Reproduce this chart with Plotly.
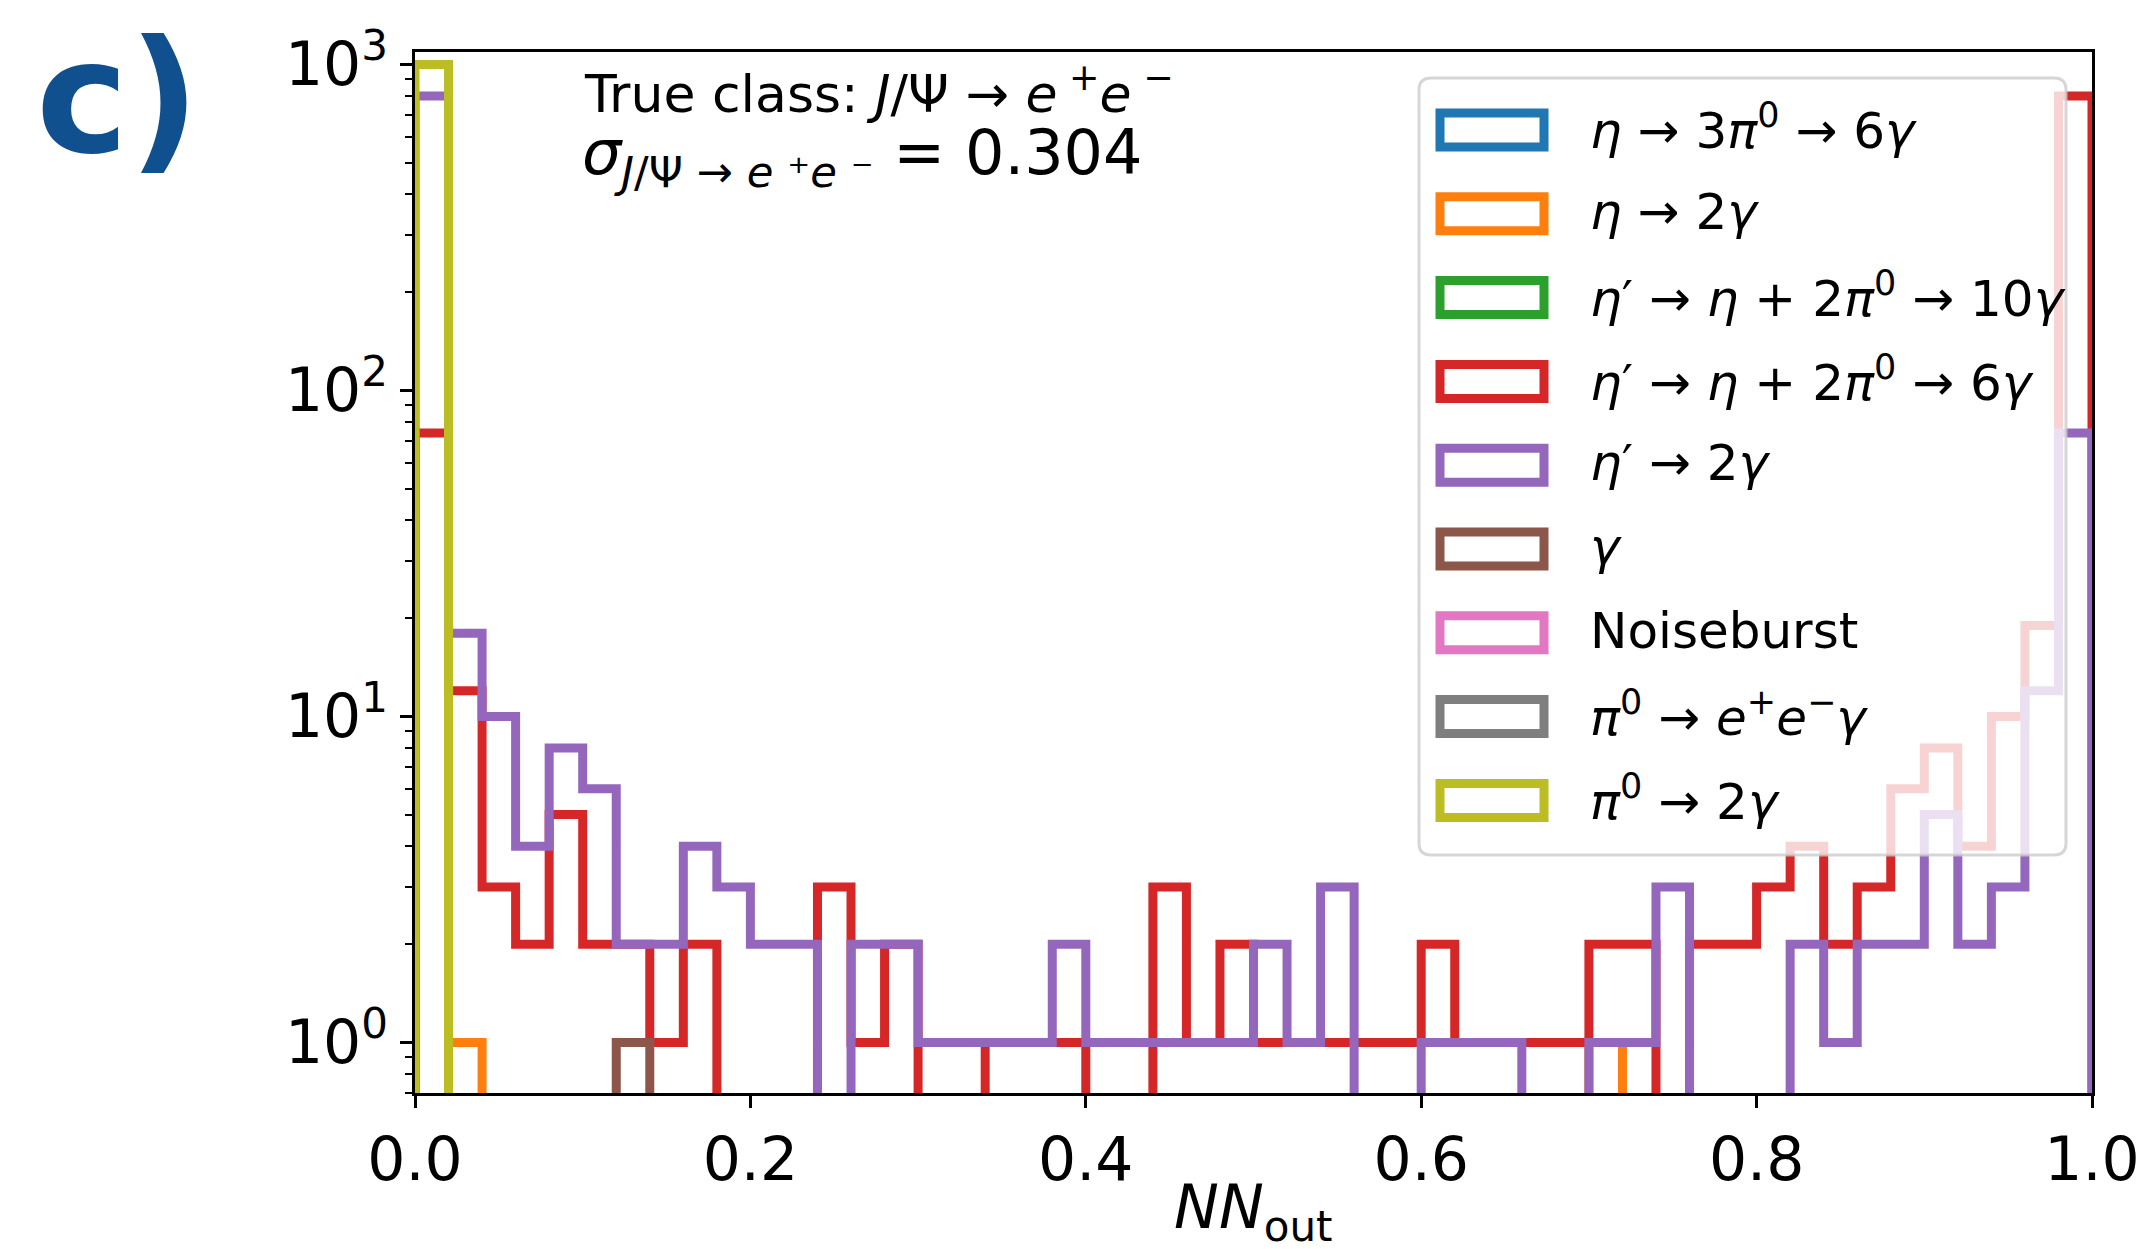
import plotly.graph_objects as go

# ---------------- data ----------------
N_BINS = 50
BIN_EDGES = [round(i / N_BINS, 4) for i in range(N_BINS + 1)]

labels = [
    "<i>η</i> → 3<i>π</i><sup>0</sup> → 6<i>γ</i>",
    "<i>η</i> → 2<i>γ</i>",
    "<i>η</i>′ → <i>η</i> + 2<i>π</i><sup>0</sup> → 10<i>γ</i>",
    "<i>η</i>′ → <i>η</i> + 2<i>π</i><sup>0</sup> → 6<i>γ</i>",
    "<i>η</i>′ → 2<i>γ</i>",
    "<i>γ</i>",
    "Noiseburst",
    "<i>π</i><sup>0</sup> → <i>e</i><sup>+</sup><i>e</i><sup>−</sup><i>γ</i>",
    "<i>π</i><sup>0</sup> → 2<i>γ</i>",
]
colors = ["#1f77b4", "#ff7f0e", "#2ca02c", "#d62728", "#9467bd",
          "#8c564b", "#e377c2", "#7f7f7f", "#bcbd22"]

eta_3pi0 = [0] * 50
eta_2g = [0, 1, 0, 0, 0, 0, 0, 0, 0, 0,
          0, 0, 0, 0, 0, 0, 0, 0, 0, 0,
          0, 0, 0, 0, 0, 0, 0, 0, 0, 0,
          0, 0, 0, 0, 0, 1, 0, 0, 0, 0,
          0, 0, 0, 0, 0, 0, 0, 0, 0, 0]
etap_10g = [0] * 50
etap_6g = [74, 12, 3, 2, 5, 2, 2, 1, 2, 0,
           0, 0, 3, 1, 2, 0, 0, 1, 1, 1,
           0, 0, 3, 1, 2, 1, 1, 1, 1, 1,
           2, 1, 1, 1, 1, 2, 2, 0, 2, 2,
           3, 4, 2, 3, 6, 8, 4, 10, 19, 800]
etap_2g = [800, 18, 10, 4, 8, 6, 2, 2, 4, 3,
           2, 2, 0, 2, 2, 1, 1, 1, 1, 2,
           1, 1, 1, 1, 1, 2, 1, 3, 0, 0,
           1, 1, 1, 0, 0, 1, 1, 3, 0, 0,
           0, 2, 1, 2, 2, 5, 2, 3, 12, 74]
gamma = [0, 0, 0, 0, 0, 0, 1, 0, 0, 0] + [0] * 40
noiseburst = [0] * 50
pi0_eeg = [0] * 50
pi0_2g = [1000] + [0] * 49

series = [eta_3pi0, eta_2g, etap_10g, etap_6g, etap_2g,
          gamma, noiseburst, pi0_eeg, pi0_2g]

sigma_text = "0.304"
x_ticks = [0.0, 0.2, 0.4, 0.6, 0.8, 1.0]
y_ticks = [1, 10, 100, 1000]
y_ticktext = ["10<sup>0</sup>", "10<sup>1</sup>", "10<sup>2</sup>", "10<sup>3</sup>"]
y_minor = [m * 10 ** e for e in range(-1, 3) for m in range(2, 10)]

# ---------------- geometry helpers ----------------
W, H = 2146, 1249
L, R, T, B = 415, 2092, 52, 1093   # plot area in pixels


def px(xp):
    return (xp - L) / (R - L)


def py(yp):
    return (B - yp) / (B - T)


FLOOR = 1e-2  # below axis -> drawn to bottom and clipped (like matplotlib)


def step_xy(edges, counts):
    xs, ys = [edges[0]], [FLOOR]
    for i, c in enumerate(counts):
        v = c if c > 0 else FLOOR
        xs += [edges[i], edges[i + 1]]
        ys += [v, v]
    xs.append(edges[-1])
    ys.append(FLOOR)
    return xs, ys


fig = go.Figure()
for cnt, col, lab in zip(series, colors, labels):
    xs, ys = step_xy(BIN_EDGES, cnt)
    fig.add_trace(go.Scatter(x=xs, y=ys, mode="lines",
                             line=dict(color=col, width=9),
                             name=lab, showlegend=False, hoverinfo="skip"))

FONT = "DejaVu Sans"

shapes = []
annotations = []

# legend box (rounded, semi-transparent)
lx0, lx1, ly0, ly1 = 1419, 2066, 78, 855
rr = 12
path = (f"M{px(lx0 + rr)},{py(ly0)} L{px(lx1 - rr)},{py(ly0)} "
        f"Q{px(lx1)},{py(ly0)} {px(lx1)},{py(ly0 + rr)} "
        f"L{px(lx1)},{py(ly1 - rr)} Q{px(lx1)},{py(ly1)} {px(lx1 - rr)},{py(ly1)} "
        f"L{px(lx0 + rr)},{py(ly1)} Q{px(lx0)},{py(ly1)} {px(lx0)},{py(ly1 - rr)} "
        f"L{px(lx0)},{py(ly0 + rr)} Q{px(lx0)},{py(ly0)} {px(lx0 + rr)},{py(ly0)} Z")
shapes.append(dict(type="path", path=path, xref="paper", yref="paper",
                   fillcolor="rgba(255,255,255,0.8)",
                   line=dict(color="rgba(204,204,204,0.8)", width=3),
                   layer="above"))

row0, pitch = 130, 83.8
for i, (col, lab) in enumerate(zip(colors, labels)):
    cy = row0 + pitch * i
    shapes.append(dict(type="rect", xref="paper", yref="paper",
                       x0=px(1440), x1=px(1544), y0=py(cy + 17), y1=py(cy - 17),
                       line=dict(color=col, width=9), fillcolor="rgba(0,0,0,0)",
                       layer="above"))
    annotations.append(dict(x=px(1588), y=py(cy - 2), xref="paper", yref="paper",
                            text=lab, showarrow=False, xanchor="left",
                            yanchor="middle",
                            font=dict(family=FONT, size=50, color="black")))

# title texts
annotations.append(dict(x=px(582), y=py(90), xref="paper", yref="paper",
                        text="True class: <i>J</i>/Ψ → <i>e</i><sup> +</sup><i>e</i><sup> −</sup>",
                        showarrow=False, xanchor="left", yanchor="middle",
                        font=dict(family=FONT, size=52, color="black")))
annotations.append(dict(x=px(580), y=py(156), xref="paper", yref="paper",
                        text="<i>σ</i><sub><i>J</i>/Ψ → <i>e</i> ⁺<i>e</i> ⁻</sub> = " + sigma_text,
                        showarrow=False, xanchor="left", yanchor="middle",
                        font=dict(family=FONT, size=62, color="black")))

# panel label
annotations.append(dict(x=px(34), y=py(98), xref="paper", yref="paper",
                        text="<b>c)</b>", showarrow=False, xanchor="left",
                        yanchor="middle",
                        font=dict(family=FONT, size=156, color="#10508f")))

# x-axis title
annotations.append(dict(x=0.5, y=py(1211), xref="paper", yref="paper",
                        text="<i>NN</i><sub>out</sub>", showarrow=False,
                        xanchor="center", yanchor="middle",
                        font=dict(family=FONT, size=60, color="black")))

fig.update_layout(
    width=W, height=H, autosize=False,
    margin=dict(l=L, r=W - R, t=T, b=H - B, pad=0, autoexpand=False),
    paper_bgcolor="white", plot_bgcolor="white",
    showlegend=False,
    shapes=shapes, annotations=annotations,
    font=dict(family=FONT, color="black"),
)
fig.update_xaxes(range=[0, 1], tickvals=x_ticks,
                 ticktext=[f"{v:.1f}" for v in x_ticks], automargin=False,
                 ticks="outside", ticklen=12, tickwidth=3, tickcolor="black",
                 showline=True, linecolor="black", linewidth=3, mirror=True,
                 showgrid=False, zeroline=False,
                 tickfont=dict(family=FONT, size=60, color="black"))
fig.update_yaxes(type="log", range=[-0.155, 3.038], tickvals=y_ticks,
                 ticktext=y_ticktext, automargin=False,
                 ticks="outside", ticklen=12, tickwidth=3, tickcolor="black",
                 minor=dict(tickvals=y_minor, ticks="outside", ticklen=7,
                            tickwidth=2, tickcolor="black", showgrid=False),
                 showline=True, linecolor="black", linewidth=3, mirror=True,
                 showgrid=False, zeroline=False,
                 tickfont=dict(family=FONT, size=60, color="black"))

fig.write_html("out.html")
